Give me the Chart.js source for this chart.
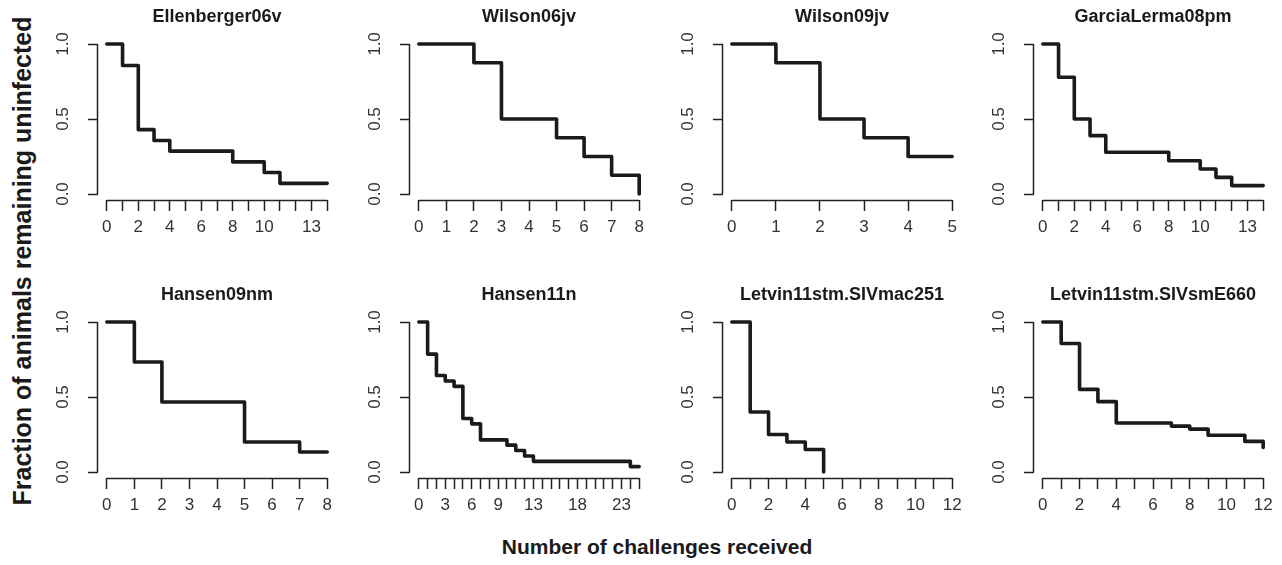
<!DOCTYPE html>
<html>
<head>
<meta charset="utf-8">
<script src="https://cdn.jsdelivr.net/npm/chart.js@4/dist/chart.umd.min.js"></script>
<style>
    body { margin: 0; background: #fff; font-family: "Liberation Sans", Arial, sans-serif; }
    #page { position: relative; width: 1282px; height: 565px; overflow: hidden; }
    .panel { position: absolute; width: 333px; height: 245px; }
    .ytitle {
        position: absolute; left: 22px; top: 261px; width: 600px; text-align: center;
        font-weight: bold; font-size: 25px; color: #1a1a1a;
        transform: translate(-50%, -50%) rotate(-90deg);
    }
    .xtitle {
        position: absolute; left: 657px; top: 547px; width: 600px; text-align: center;
        font-weight: bold; font-size: 21px; color: #1a1a1a;
        transform: translate(-50%, -50%);
    }
</style>
</head>
<body>
<div id="page">
    <div class="ytitle">Fraction of animals remaining uninfected</div>
    <div class="xtitle">Number of challenges received</div>
</div>
<script>
const panelTitles = ['Ellenberger06v', 'Wilson06jv', 'Wilson09jv', 'GarciaLerma08pm',
    'Hansen09nm', 'Hansen11n', 'Letvin11stm.SIVmac251', 'Letvin11stm.SIVsmE660'];

// challenge where each step starts / fraction uninfected from there on
const ellenbergerX = [0, 1, 2, 3, 4, 8, 10, 11, 14];
const ellenbergerY = [1, 0.857, 0.429, 0.357, 0.286, 0.214, 0.143, 0.071, 0.071];
const wilson06X = [0, 2, 3, 5, 6, 7, 8];
const wilson06Y = [1, 0.875, 0.5, 0.375, 0.25, 0.125, 0];
const wilson09X = [0, 1, 2, 3, 4, 5];
const wilson09Y = [1, 0.875, 0.5, 0.375, 0.25, 0.25];
const garciaX = [0, 1, 2, 3, 4, 8, 10, 11, 12, 14];
const garciaY = [1, 0.778, 0.5, 0.389, 0.278, 0.222, 0.167, 0.111, 0.056, 0.056];
const hansen09X = [0, 1, 2, 5, 7, 8];
const hansen09Y = [1, 0.733, 0.467, 0.2, 0.133, 0.133];
const hansen11X = [0, 1, 2, 3, 4, 5, 6, 7, 10, 11, 12, 13, 24, 25];
const hansen11Y = [1, 0.786, 0.643, 0.607, 0.571, 0.357, 0.321, 0.214, 0.179, 0.143, 0.107, 0.071, 0.036, 0.036];
const mac251X = [0, 1, 2, 3, 4, 5];
const mac251Y = [1, 0.4, 0.25, 0.2, 0.15, 0];
const smE660X = [0, 1, 2, 3, 4, 7, 8, 9, 11, 12];
const smE660Y = [1, 0.857, 0.551, 0.469, 0.327, 0.306, 0.286, 0.245, 0.204, 0.163];

const seriesX = [ellenbergerX, wilson06X, wilson09X, garciaX, hansen09X, hansen11X, mac251X, smE660X];
const seriesY = [ellenbergerY, wilson06Y, wilson09Y, garciaY, hansen09Y, hansen11Y, mac251Y, smE660Y];

// axis extents and the tick labels R kept
const xMaxes = [14, 8, 5, 14, 8, 25, 12, 12];
const xTickLabels = [
    [0, 2, 4, 6, 8, 10, 13], [0, 1, 2, 3, 4, 5, 6, 7, 8], [0, 1, 2, 3, 4, 5], [0, 2, 4, 6, 8, 10, 13],
    [0, 1, 2, 3, 4, 5, 6, 7, 8], [0, 3, 6, 9, 13, 18, 23], [0, 2, 4, 6, 8, 10, 12], [0, 2, 4, 6, 8, 10, 12]
];
const yTicks = [0, 0.5, 1];

// plot region (chart area) of each column / row
const colLeft = [97.5, 410, 722.5, 1034];
const rowTop = [38, 316];
const plotW = 238, plotH = 162;
const padLeft = 70, padTop = 38, padRight = 25, padBottom = 45;

const FONT = '"Liberation Sans", Arial, sans-serif';

// R-style axes: lines only span first..last tick, rotated y labels, title over the plot
const rAxes = {
    id: 'rAxes',
    afterDraw(chart, args, opts) {
        const { ctx, chartArea: ca, scales: { x, y } } = chart;
        ctx.save();
        ctx.strokeStyle = '#222';
        ctx.lineWidth = 1.5;
        ctx.beginPath();
        ctx.moveTo(x.getPixelForValue(x.ticks[0].value), ca.bottom + 0.5);
        ctx.lineTo(x.getPixelForValue(x.ticks[x.ticks.length - 1].value), ca.bottom + 0.5);
        ctx.moveTo(ca.left - 0.5, y.getPixelForValue(yTicks[0]));
        ctx.lineTo(ca.left - 0.5, y.getPixelForValue(yTicks[yTicks.length - 1]));
        ctx.stroke();

        ctx.fillStyle = '#333';
        ctx.font = '17px ' + FONT;
        ctx.textAlign = 'center';
        ctx.textBaseline = 'middle';
        yTicks.forEach(v => {
            ctx.save();
            ctx.translate(ca.left - 35, y.getPixelForValue(v));
            ctx.rotate(-Math.PI / 2);
            ctx.fillText(v.toFixed(1), 0, 0);
            ctx.restore();
        });

        ctx.fillStyle = '#1a1a1a';
        ctx.font = 'bold 18px ' + FONT;
        ctx.fillText(opts.text, (ca.left + ca.right) / 2, ca.top - 21);
        ctx.restore();
    }
};

const page = document.getElementById('page');

panelTitles.forEach((title, i) => {
    const col = i % 4, row = Math.floor(i / 4);
    const div = document.createElement('div');
    div.className = 'panel';
    div.style.left = (colLeft[col] - padLeft) + 'px';
    div.style.top = (rowTop[row] - padTop) + 'px';
    div.style.width = (padLeft + plotW + padRight) + 'px';
    div.style.height = (padTop + plotH + padBottom) + 'px';
    const canvas = document.createElement('canvas');
    div.appendChild(canvas);
    page.appendChild(div);

    const xMax = xMaxes[i];
    const labels = xTickLabels[i];
    const points = seriesX[i].map((xv, k) => ({ x: xv, y: seriesY[i][k] }));

    new Chart(canvas, {
        type: 'line',
        data: {
            datasets: [{
                data: points,
                stepped: 'before',   // hold value until next challenge, then drop
                borderColor: '#1a1a1a',
                borderWidth: 3.6,
                borderJoinStyle: 'round',
                borderCapStyle: 'round',
                pointRadius: 0,
                fill: false
            }]
        },
        options: {
            responsive: true,
            maintainAspectRatio: false,
            animation: false,
            events: [],
            layout: { padding: { left: 0, right: padRight, top: padTop, bottom: 0 } },
            scales: {
                x: {
                    type: 'linear',
                    min: -0.04 * xMax,
                    max: 1.04 * xMax,
                    afterBuildTicks: s => {
                        s.ticks = [];
                        for (let v = 0; v <= xMax; v++) s.ticks.push({ value: v });
                    },
                    afterFit: s => { s.height = padBottom; },
                    border: { display: false },
                    grid: {
                        drawOnChartArea: false,
                        drawTicks: true,
                        tickLength: 11,
                        tickWidth: 1.5,
                        tickColor: '#222'
                    },
                    ticks: {
                        autoSkip: false,
                        maxRotation: 0,
                        padding: 6,
                        color: '#333',
                        font: { family: FONT, size: 17 },
                        callback: v => labels.includes(v) ? String(v) : ''
                    }
                },
                y: {
                    min: -0.04,
                    max: 1.04,
                    afterBuildTicks: s => { s.ticks = yTicks.map(v => ({ value: v })); },
                    afterFit: s => { s.width = padLeft; },
                    border: { display: false },
                    grid: {
                        drawOnChartArea: false,
                        drawTicks: true,
                        tickLength: 10,
                        tickWidth: 1.5,
                        tickColor: '#222'
                    },
                    ticks: { display: false }
                }
            },
            plugins: {
                legend: { display: false },
                tooltip: { enabled: false },
                title: { display: false },
                rAxes: { text: title }
            }
        },
        plugins: [rAxes]
    });
});
</script>
</body>
</html>
